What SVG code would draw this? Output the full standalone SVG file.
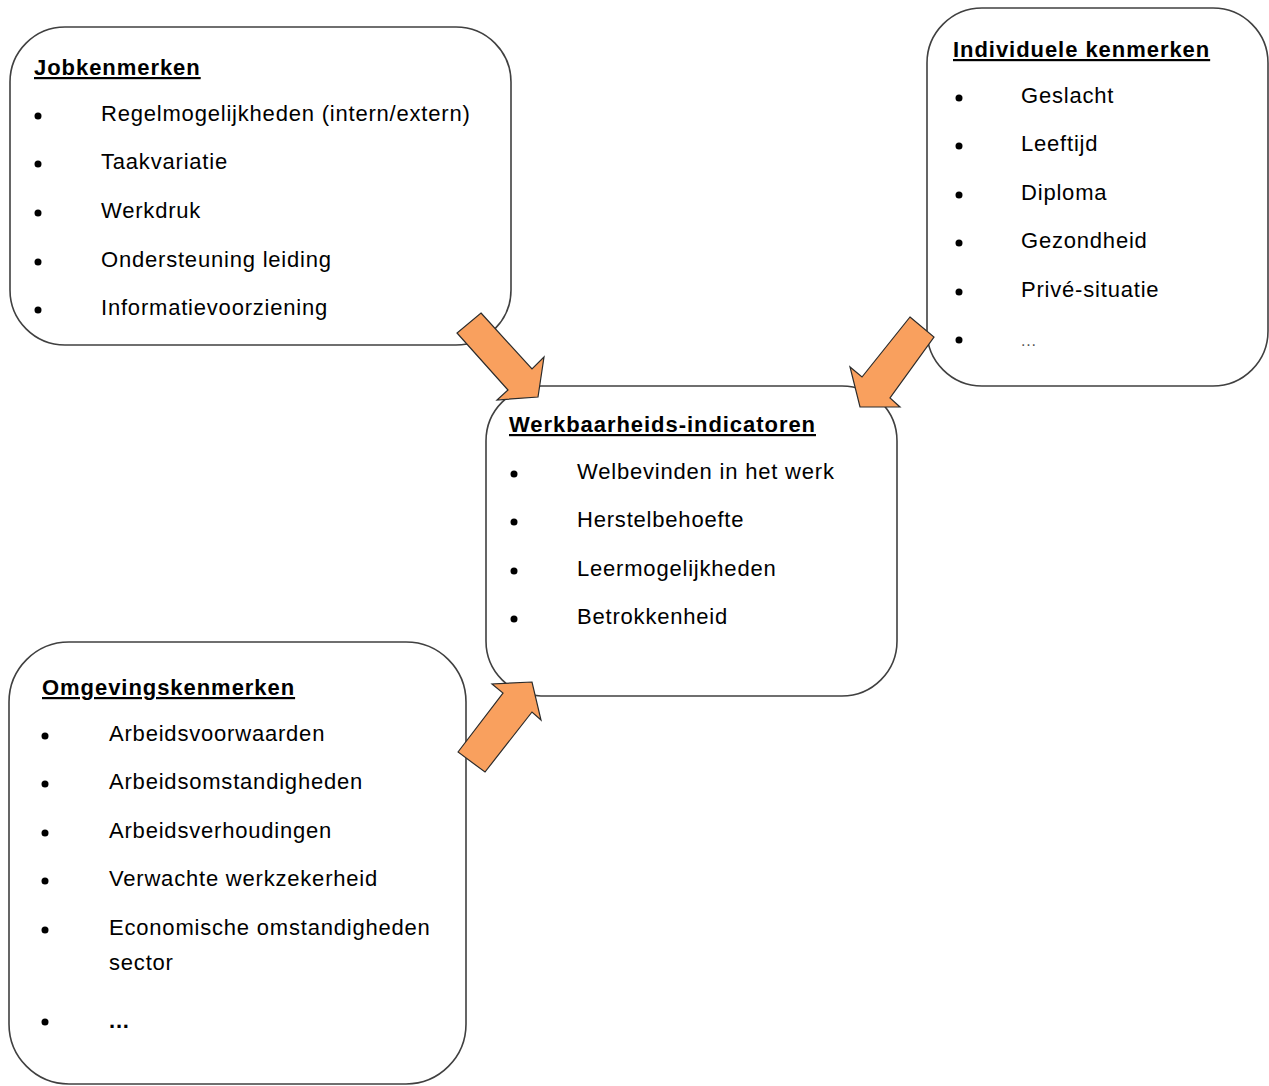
<svg xmlns="http://www.w3.org/2000/svg" width="1269" height="1086" viewBox="0 0 1269 1086">
<style>
.box{fill:#fff;stroke:#404040;stroke-width:1.6}
.hd{font-family:"Liberation Sans",Arial,sans-serif;font-weight:bold;font-size:22px;letter-spacing:0.95px;fill:#000;text-decoration:underline}
.it{font-family:"Liberation Sans",Arial,sans-serif;font-size:22px;letter-spacing:0.8px;fill:#000}
.bl{fill:#000}
.arr{fill:#F9A05E;stroke:#2b2b2b;stroke-width:1.2;stroke-linejoin:miter}
</style>
<rect width="1269" height="1086" fill="#fff"/>

<g id="jobkenmerken">
<rect class="box" x="10" y="27" width="501" height="318" rx="55" ry="55"/>
<text class="hd" x="34" y="75">Jobkenmerken</text>
<circle class="bl" cx="38" cy="116" r="3.5"/><text class="it" x="101" y="121">Regelmogelijkheden (intern/extern)</text>
<circle class="bl" cx="38" cy="164" r="3.5"/><text class="it" x="101" y="169">Taakvariatie</text>
<circle class="bl" cx="38" cy="213" r="3.5"/><text class="it" x="101" y="218">Werkdruk</text>
<circle class="bl" cx="38" cy="262" r="3.5"/><text class="it" x="101" y="267">Ondersteuning leiding</text>
<circle class="bl" cx="38" cy="310" r="3.5"/><text class="it" x="101" y="315">Informatievoorziening</text>
</g>

<g id="individuele">
<rect class="box" x="927" y="8" width="341" height="378" rx="55" ry="55"/>
<text class="hd" x="953" y="57">Individuele kenmerken</text>
<circle class="bl" cx="959" cy="98" r="3.5"/><text class="it" x="1021" y="103">Geslacht</text>
<circle class="bl" cx="959" cy="146" r="3.5"/><text class="it" x="1021" y="151">Leeftijd</text>
<circle class="bl" cx="959" cy="195" r="3.5"/><text class="it" x="1021" y="200">Diploma</text>
<circle class="bl" cx="959" cy="243" r="3.5"/><text class="it" x="1021" y="248">Gezondheid</text>
<circle class="bl" cx="959" cy="292" r="3.5"/><text class="it" x="1021" y="297">Privé-situatie</text>
<circle class="bl" cx="959" cy="340" r="3.5"/><text class="it" x="1021" y="346" style="font-size:16px;fill:#555">...</text>
</g>

<g id="werkbaarheid">
<rect class="box" x="486" y="386" width="411" height="310" rx="55" ry="55"/>
<text class="hd" x="509" y="432">Werkbaarheids-indicatoren</text>
<circle class="bl" cx="514" cy="474" r="3.5"/><text class="it" x="577" y="479">Welbevinden in het werk</text>
<circle class="bl" cx="514" cy="522" r="3.5"/><text class="it" x="577" y="527">Herstelbehoefte</text>
<circle class="bl" cx="514" cy="571" r="3.5"/><text class="it" x="577" y="576">Leermogelijkheden</text>
<circle class="bl" cx="514" cy="619" r="3.5"/><text class="it" x="577" y="624">Betrokkenheid</text>
</g>

<g id="omgevingskenmerken">
<rect class="box" x="9" y="642" width="457" height="442" rx="60" ry="60"/>
<text class="hd" x="42" y="695">Omgevingskenmerken</text>
<circle class="bl" cx="45" cy="736" r="3.5"/><text class="it" x="109" y="741">Arbeidsvoorwaarden</text>
<circle class="bl" cx="45" cy="784" r="3.5"/><text class="it" x="109" y="789">Arbeidsomstandigheden</text>
<circle class="bl" cx="45" cy="833" r="3.5"/><text class="it" x="109" y="838">Arbeidsverhoudingen</text>
<circle class="bl" cx="45" cy="881" r="3.5"/><text class="it" x="109" y="886">Verwachte werkzekerheid</text>
<circle class="bl" cx="45" cy="930" r="3.5"/><text class="it" x="109" y="935">Economische omstandigheden</text>
<text class="it" x="109" y="970">sector</text>
<circle class="bl" cx="45" cy="1022" r="3.5"/><text class="it" x="109" y="1028" style="font-weight:bold">...</text>
</g>

<g id="connectors">
<polygon class="arr" points="481,313 532,369 544,357 538,397 497,400 508,390 457,333"/>
<polygon class="arr" points="910,317 934,337 890,398 900,407 860,407 850,367 862,377"/>
<polygon class="arr" points="458,752 503,693 492,684 532,682 541,720 532,712 485,772"/>
</g>
</svg>
